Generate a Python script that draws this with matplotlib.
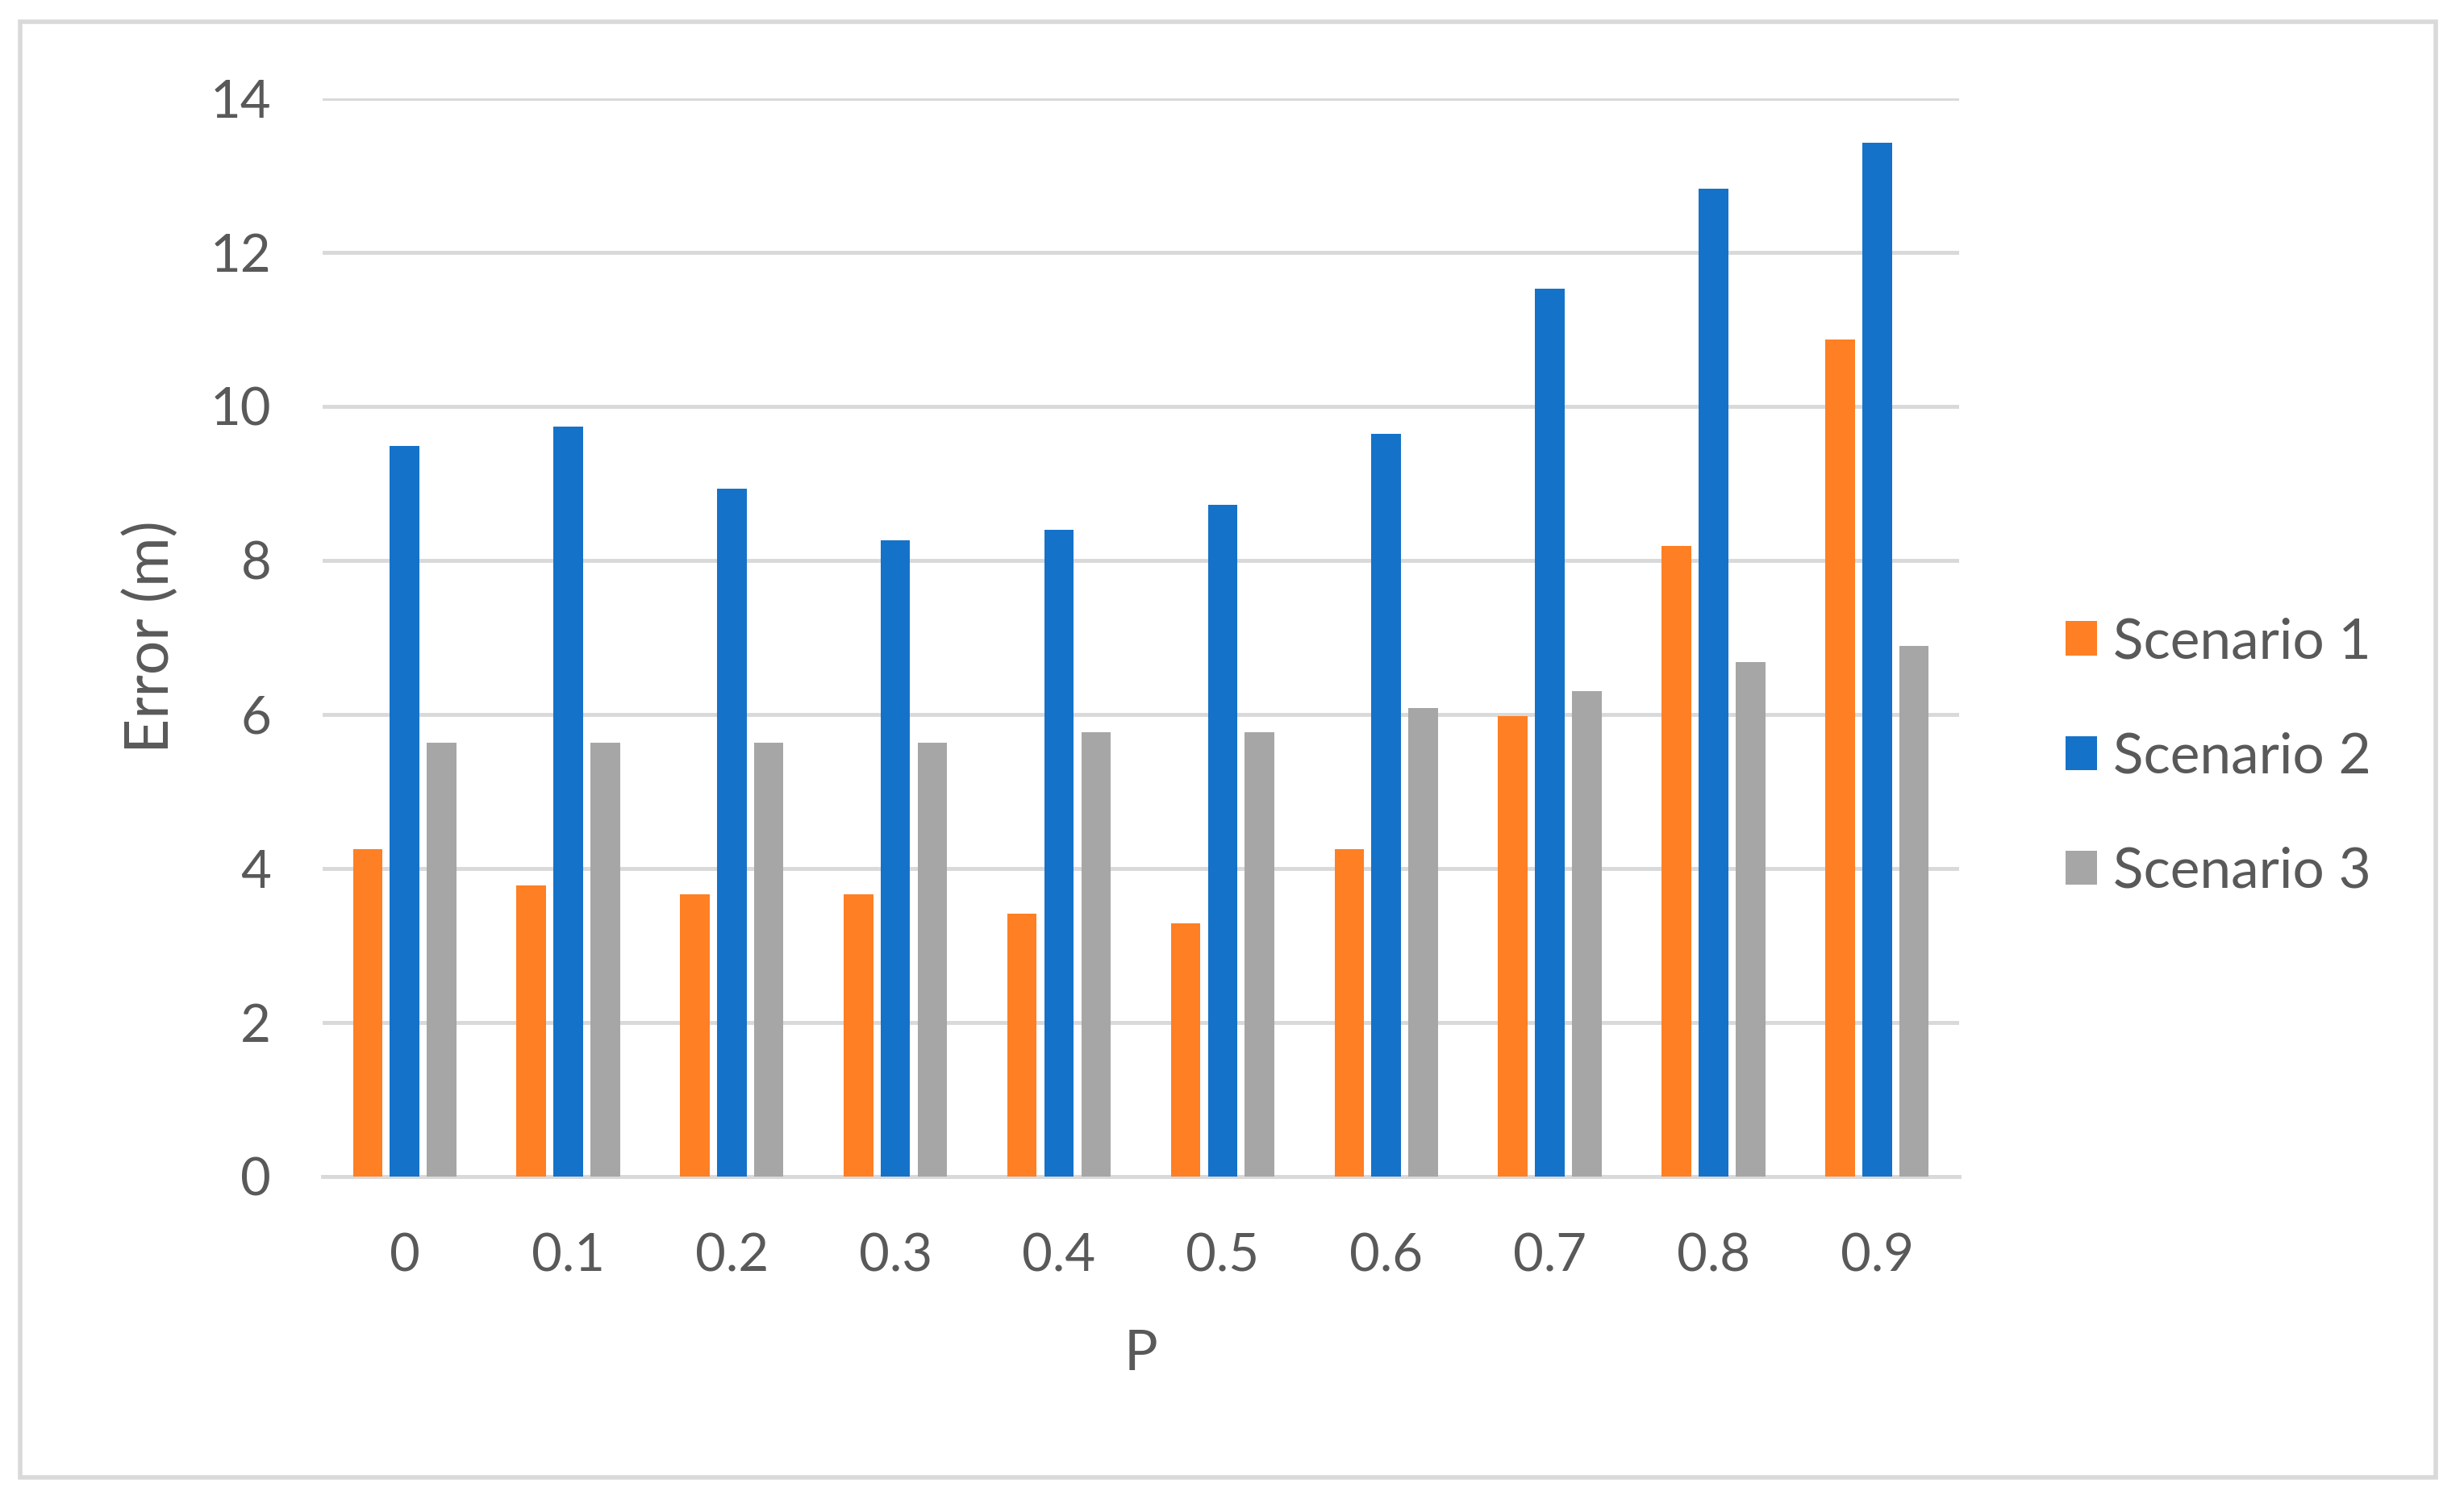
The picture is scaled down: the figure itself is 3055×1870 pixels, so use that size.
import numpy as np
from matplotlib import pyplot as plt
from matplotlib.patches import Rectangle

p_labels = ["0", "0.1", "0.2", "0.3", "0.4", "0.5", "0.6", "0.7", "0.8", "0.9"]
scenario_1 = [4.25, 3.78, 3.66, 3.66, 3.41, 3.28, 4.25, 5.97, 8.18, 10.86]
scenario_2 = [9.48, 9.73, 8.93, 8.26, 8.39, 8.72, 9.64, 11.52, 12.82, 13.42]
scenario_3 = [5.63, 5.63, 5.63, 5.63, 5.76, 5.76, 6.08, 6.30, 6.68, 6.89]
series_names = ["Scenario 1", "Scenario 2", "Scenario 3"]
y_ticks = [0, 2, 4, 6, 8, 10, 12, 14]

colors = ["#FE7F24", "#1572C9", "#A6A6A6"]
text_color = "#595959"
grid_color = "#D9D9D9"

plt.rcParams["font.family"] = ["Lato", "DejaVu Sans"]

fig = plt.figure(figsize=(30.55, 18.7), dpi=100)
ax = fig.add_axes([0.131, 0.22, 0.664, 0.715])

# outer chart border
fig.patches.append(
    Rectangle(
        (25 / 3055, 1 - 1832 / 1870),
        (3020 - 25) / 3055,
        (1832 - 27) / 1870,
        transform=fig.transFigure,
        fill=False,
        edgecolor=grid_color,
        linewidth=4,
    )
)

x = np.arange(len(p_labels))
offset = 0.226
width = 0.18
for i, (vals, name) in enumerate(zip([scenario_1, scenario_2, scenario_3], series_names)):
    ax.bar(
        x + (i - 1) * offset,
        vals,
        width=width,
        color=colors[i],
        label=name,
        zorder=3,
    )

ax.set_xlim(-0.5, len(p_labels) - 0.5)
ax.set_ylim(0, 14)
ax.set_yticks(y_ticks)
ax.set_xticks(x)
ax.set_xticklabels(p_labels)
ax.grid(axis="y", color=grid_color, linewidth=3.5, zorder=0)
ax.set_axisbelow(True)
for side in ["top", "right", "left"]:
    ax.spines[side].set_visible(False)
ax.spines["bottom"].set_color(grid_color)
ax.spines["bottom"].set_linewidth(3.5)
ax.tick_params(axis="both", length=0, labelsize=47, labelcolor=text_color)
ax.tick_params(axis="y", pad=46)
ax.tick_params(axis="x", pad=50)

ax.set_xlabel("P", fontsize=50, color=text_color, labelpad=44)
ax.set_ylabel("Error (m)", fontsize=54, color=text_color, labelpad=28)

ax.legend(
    loc="center left",
    bbox_to_anchor=(0.818, 0.498),
    bbox_transform=fig.transFigure,
    frameon=False,
    fontsize=50,
    labelcolor=text_color,
    handlelength=0.56,
    handleheight=0.56,
    handletextpad=0.28,
    labelspacing=1.14,
)

fig.savefig("out.png", dpi=100, facecolor="white")
